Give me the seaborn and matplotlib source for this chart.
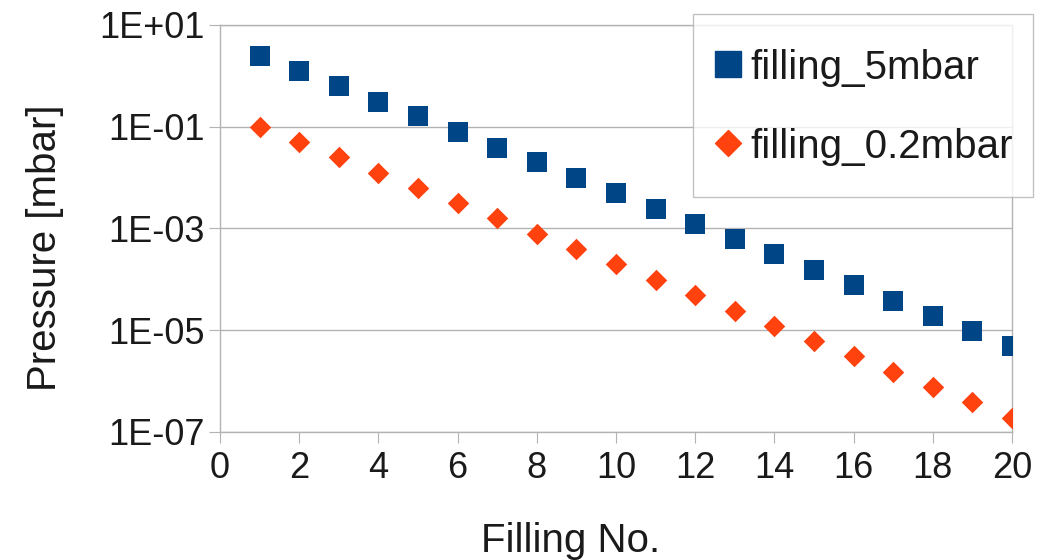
import pandas as pd
import seaborn as sns
import matplotlib.pyplot as plt
from matplotlib.ticker import FixedLocator, NullLocator
from matplotlib.legend_handler import HandlerLine2D

filling_no = list(range(1, 21))
filling_5mbar = [2.5, 1.25, 0.63, 0.31, 0.16, 0.078, 0.039, 0.020, 0.0098, 0.0049,
                 0.0024, 0.0012, 0.00061, 0.00031, 0.00015, 7.6e-5, 3.8e-5, 1.9e-5, 9.5e-6, 4.8e-6]
filling_02mbar = [0.1, 0.05, 0.025, 0.0125, 0.0063, 0.0031, 0.0016, 0.00078, 0.00039, 0.0002,
                  9.8e-5, 4.9e-5, 2.4e-5, 1.2e-5, 6.1e-6, 3.1e-6, 1.5e-6, 7.6e-7, 3.8e-7, 1.9e-7]
series_names = ["filling_5mbar", "filling_0.2mbar"]
y_ticks = [1e1, 1e-1, 1e-3, 1e-5, 1e-7]
y_tick_labels = ["1E+01", "1E-01", "1E-03", "1E-05", "1E-07"]
x_ticks = list(range(0, 21, 2))

sns.set_style("white")
plt.rcParams['font.family'] = ['Liberation Sans', 'DejaVu Sans']

df = pd.DataFrame({
    "Filling No.": filling_no * 2,
    "Pressure": filling_5mbar + filling_02mbar,
    "series": [series_names[0]] * 20 + [series_names[1]] * 20,
})


class LoweredHandler(HandlerLine2D):
    # the tall handle box pushes the marker up, move it back down next to the text
    def create_artists(self, legend, orig_handle, xdescent, ydescent, width, height,
                       fontsize, trans):
        arts = super().create_artists(legend, orig_handle, xdescent, ydescent, width,
                                      height, fontsize, trans)
        for a in arts:
            a.set_ydata([y - 5.5 for y in a.get_ydata()])
        return arts


fig = plt.figure(figsize=(10.48, 5.6), dpi=100)
ax = fig.add_axes([0.21, 0.2286, 0.7556, 0.7268])

# squares and diamonds drawn separately so each gets its own size
sns.scatterplot(data=df[df.series == series_names[0]], x="Filling No.", y="Pressure",
                color="#004586", marker="s", s=200, linewidth=0, ax=ax, zorder=3, legend=False)
sns.scatterplot(data=df[df.series == series_names[1]], x="Filling No.", y="Pressure",
                color="#ff420e", marker="D", s=120, linewidth=0, ax=ax, zorder=3, legend=False)

ax.set_yscale("log")
ax.set_ylim(1e-7, 1e1)
ax.set_xlim(0, 20)
ax.yaxis.set_major_locator(FixedLocator(y_ticks))
ax.yaxis.set_minor_locator(NullLocator())
ax.set_yticks(y_ticks)
ax.set_yticklabels(y_tick_labels)
ax.set_xticks(x_ticks)
ax.grid(axis="y", color="#b3b3b3", linewidth=1)
for sp in ax.spines.values():
    sp.set_color("#b3b3b3")
    sp.set_linewidth(1)
ax.tick_params(axis="both", labelsize=26, length=8, color="#b3b3b3", direction="out",
               bottom=True, left=True, labelcolor="#1a1a1a")
ax.tick_params(axis="y", pad=3)
ax.tick_params(axis="x", pad=6)
ax.set_xlabel("Filling No.", fontsize=29, color="#1a1a1a")
ax.set_ylabel("Pressure [mbar]", fontsize=29, color="#1a1a1a")
ax.xaxis.set_label_coords(0.442, -0.222)
ax.yaxis.set_label_coords(-0.197, 0.452)

handles = [
    plt.Line2D([], [], marker="s", color="#004586", linestyle="", markersize=19),
    plt.Line2D([], [], marker="D", color="#ff420e", linestyle="", markersize=13),
]
leg = fig.legend(handles, series_names, loc="upper right", bbox_to_anchor=(0.986, 0.975),
                 fontsize=29, frameon=True, fancybox=False, edgecolor="#b3b3b3",
                 borderpad=0.5, labelspacing=0.345, handletextpad=0.2, handlelength=0.72,
                 handleheight=2.09, borderaxespad=0,
                 handler_map={plt.Line2D: LoweredHandler()})
leg.get_frame().set_linewidth(1)
for t in leg.get_texts():
    t.set_color("#1a1a1a")

fig.savefig("out.png", dpi=100)
